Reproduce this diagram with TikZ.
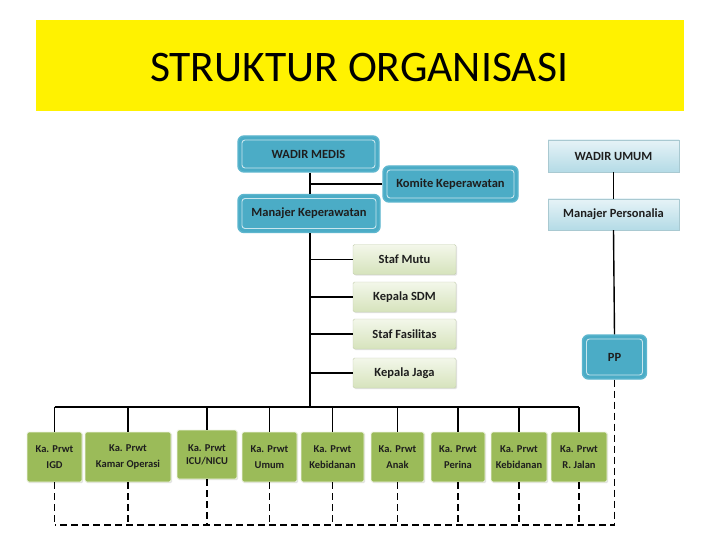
\documentclass[tikz,border=0pt]{standalone}
\usepackage{fontspec}
\setmainfont{Carlito}
\usetikzlibrary{shadows}
\definecolor{tealc}{HTML}{4BACC6}
\definecolor{tealb}{HTML}{5DB6CE}
\definecolor{greenc}{HTML}{9BBB59}
\definecolor{txt}{HTML}{1E1E1E}
\definecolor{ltop}{HTML}{F3F7EA}
\definecolor{lbot}{HTML}{D6E3BC}
\definecolor{btop}{HTML}{E6F3F7}
\definecolor{bbot}{HTML}{B4DBE6}
\tikzset{
  lbl/.style={font=\fontsize{12.5}{14}\selectfont\bfseries, text=txt, align=center, inner sep=0pt},
  tealbox/.style={lbl, rectangle, rounded corners=6pt, fill=tealc, draw=tealb, line width=1.4pt,
    path picture={\draw[white!70!tealc, line width=0.9pt, rounded corners=3pt]
      ([shift={(4pt,-4pt)}]path picture bounding box.north west) rectangle
      ([shift={(-4pt,4pt)}]path picture bounding box.south east);}},
  bluebox/.style={lbl, rectangle, top color=btop, bottom color=bbot, draw=bbot!80!gray, line width=0.4pt,
    drop shadow={shadow xshift=1.2pt, shadow yshift=-1.2pt, fill=black!22}},
  staffbox/.style={lbl, rectangle, rounded corners=1.5pt, top color=ltop, bottom color=lbot, draw=lbot!80!gray, line width=0.4pt,
    drop shadow={shadow xshift=1.2pt, shadow yshift=-1.2pt, fill=black!22}},
  unitbox/.style={lbl, rectangle, rounded corners=1.5pt, fill=greenc, draw=white!85!greenc, line width=0.8pt,
    font=\fontsize{10.5}{16.5}\selectfont\bfseries,
    drop shadow={shadow xshift=1.2pt, shadow yshift=-1.2pt, fill=black!22}},
  link/.style={line width=1.4pt, black},
  dlink/.style={line width=1.6pt, black, dash pattern=on 7pt off 4pt}
}
\begin{document}
\begin{tikzpicture}[x=1pt,y=-1pt]
\useasboundingbox (0,0) rectangle (720,540);
\fill[white] (0,0) rectangle (720,540);
% title
\node[fill=yellow, minimum width=648pt, minimum height=91pt, inner sep=0pt] (banner) at (360,65.5) {};
\node[font=\fontsize{43.6}{50}\selectfont, text=black] (title) at (359,68) {STRUKTUR ORGANISASI};

% left column
\node[tealbox, minimum width=141pt, minimum height=36pt] (wm) at (308.5,154) {WADIR MEDIS};
\node[tealbox, minimum width=135pt, minimum height=36pt] (kk) at (450.5,184) {Komite Keperawatan};
\node[tealbox, minimum width=142pt, minimum height=38pt] (mk) at (309,213.5) {Manajer Keperawatan};

% right column
\node[bluebox, minimum width=131pt, minimum height=32pt] (wu) at (613.5,156) {WADIR UMUM};
\node[bluebox, minimum width=131pt, minimum height=31pt] (mp) at (613.5,214.5) {Manajer Personalia};
\node[tealbox, minimum width=64pt, minimum height=44pt] (pp) at (614.5,357) {PP};

% staff
\node[staffbox, minimum width=103pt, minimum height=30pt] (s1) at (404.5,259.5) {Staf Mutu};
\node[staffbox, minimum width=103pt, minimum height=30pt] (s2) at (404.5,297) {Kepala SDM};
\node[staffbox, minimum width=103pt, minimum height=30pt] (s3) at (404.5,334) {Staf Fasilitas};
\node[staffbox, minimum width=103pt, minimum height=30pt] (s4) at (404.5,373) {Kepala Jaga};

% units
\node[unitbox, minimum width=55pt, minimum height=50pt] (u1) at (54.5,457) {Ka. Prwt\\IGD};
\node[unitbox, minimum width=86pt, minimum height=50pt] (u2) at (128,457) {Ka. Prwt\\Kamar Operasi};
\node[unitbox, minimum width=60pt, minimum height=49pt, font=\fontsize{10.5}{13}\selectfont\bfseries] (u3) at (207,454.5) {Ka. Prwt\\ICU/NICU};
\node[unitbox, minimum width=55pt, minimum height=50pt] (u4) at (269.5,457) {Ka. Prwt\\Umum};
\node[unitbox, minimum width=63pt, minimum height=50pt] (u5) at (332.5,457) {Ka. Prwt\\Kebidanan};
\node[unitbox, minimum width=53pt, minimum height=50pt] (u6) at (397.5,457) {Ka. Prwt\\Anak};
\node[unitbox, minimum width=54pt, minimum height=50pt] (u7) at (458,457) {Ka. Prwt\\Perina};
\node[unitbox, minimum width=56pt, minimum height=50pt] (u8) at (519,457) {Ka. Prwt\\Kebidanan};
\node[unitbox, minimum width=56pt, minimum height=50pt] (u9) at (579,457) {Ka. Prwt\\R. Jalan};

% coordinates
\coordinate (spine) at (310,407);
\coordinate (busL) at (54.5,407);
\coordinate (busR) at (579,407);
\coordinate (dL) at (54.5,525);
\coordinate (dR) at (614.5,525);

% solid links
\draw[link] (wm.south -| spine) -- (mk.north -| spine);
\draw[link] (mk.south -| spine) -- (spine);
\draw[link] (kk.west) -- (kk.west -| spine);
\foreach \s in {s1,s2,s3,s4} \draw[link] (\s.west -| spine) -- (\s.west);
\draw[link] (busL) -- (busR);
\foreach \u in {u1,u2,u3,u4,u5,u6,u7,u8,u9} \draw[link] (\u.north |- spine) -- (\u.north);
\draw[link] (wu.south) -- (mp.north);
\draw[link] (mp.south) -- (pp.north);

% dashed links
\draw[dlink] (pp.south) -- (dR) -- (dL);
\foreach \u in {u1,u2,u3,u4,u5,u6,u7,u8,u9} \draw[dlink] (\u.south) -- (\u.south |- dL);
\end{tikzpicture}
\end{document}
